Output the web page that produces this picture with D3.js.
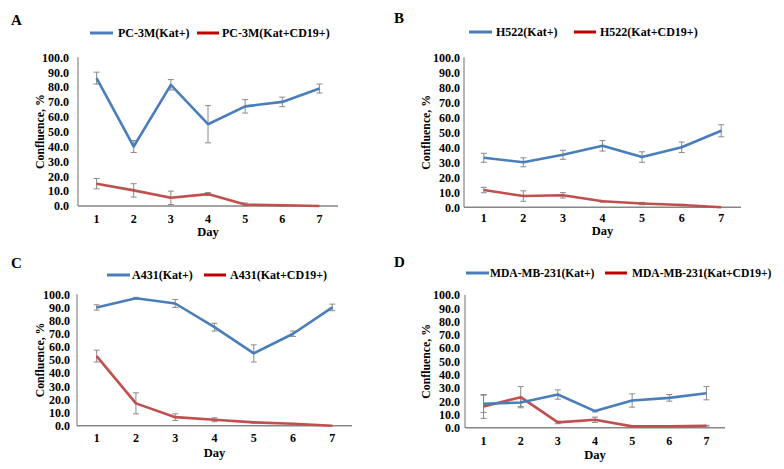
<!DOCTYPE html>
<html><head><meta charset="utf-8">
<script src="https://cdn.jsdelivr.net/npm/d3@7"></script>
<style>
html,body{margin:0;padding:0;background:#fff;}
svg text{font-family:"Liberation Serif","Times New Roman",Tinos,"DejaVu Serif",serif !important;font-weight:bold;fill:#000;}
</style></head>
<body>
<svg id="c" width="784" height="469"></svg>
<script>
// ---- data ----
const days = ["1","2","3","4","5","6","7"];
const yTicks = [0,10,20,30,40,50,60,70,80,90,100];

const panelLetters = ["A","B","C","D"];
const seriesNamesKat = ["PC-3M(Kat+)","H522(Kat+)","A431(Kat+)","MDA-MB-231(Kat+)"];
const seriesNamesCD19 = ["PC-3M(Kat+CD19+)","H522(Kat+CD19+)","A431(Kat+CD19+)","MDA-MB-231(Kat+CD19+)"];

const katA  = [86, 40, 81.5, 55, 67, 70, 79];
const katAErr = [4, 4, 3.5, 12.5, 4.5, 3.2, 3];
const cdA   = [15, 10.5, 5.5, 8, 1, 0.5, 0];
const cdAErr = [3.5, 4.5, 4.5, 1, 1, 0.5, 0];

const katB  = [33, 30, 35, 41, 33.5, 40, 51];
const katBErr = [3, 3, 3, 3.5, 3.5, 3.5, 4];
const cdB   = [11.5, 7.5, 8, 4, 2.5, 1.5, 0];
const cdBErr = [1.8, 3.5, 1.8, 0.6, 0.8, 0.5, 0];

const katC  = [90, 97, 93, 75, 55, 70, 90];
const katCErr = [2, 0.7, 3, 3, 6.5, 2, 2.5];
const cdC   = [53, 17, 6.5, 4.5, 2.5, 1.5, 0];
const cdCErr = [4.5, 8, 2.5, 1.5, 0.5, 0.3, 0];

const katD  = [18, 19, 25, 12.5, 20.5, 22.5, 26];
const katDErr = [6.5, 3, 3.5, 0.6, 5, 2.5, 5];
const cdD   = [16, 23, 4, 6, 1, 1, 1.5];
const cdDErr = [9, 8, 1, 2, 0.3, 0.3, 0.3];

// ---- layout (positions/styles only) ----
const layout = [
  {x0:78, x1:338, yT:57.3, yB:206, letter:[11,25], leg:{y:33, l1:90, t1:118, l2:197, t2:222, fs:12},
   tickGap:9, ylabX:40, xTickY:223, dayY:236},
  {x0:464, x1:741, yT:57.3, yB:207.3, letter:[394,23], leg:{y:32, l1:469, t1:496, l2:574, t2:600, fs:12},
   tickGap:4, ylabX:426, xTickY:222, dayY:235},
  {x0:77, x1:352, yT:294.3, yB:425.7, letter:[11,268], leg:{y:275, l1:107, t1:132, l2:204, t2:230, fs:12},
   tickGap:7, ylabX:40, xTickY:442, dayY:457},
  {x0:465, x1:725, yT:295, yB:427.7, letter:[394,267], leg:{y:273, l1:466, t1:490, l2:605, t2:632, fs:11.6},
   tickGap:5, ylabX:426, xTickY:445, dayY:459}
];

const panels = [
  {kat:katA, katErr:katAErr, cd:cdA, cdErr:cdAErr},
  {kat:katB, katErr:katBErr, cd:cdB, cdErr:cdBErr},
  {kat:katC, katErr:katCErr, cd:cdC, cdErr:cdCErr},
  {kat:katD, katErr:katDErr, cd:cdD, cdErr:cdDErr}
];

const blue = "#4A7EBB", red = "#C0504D", legBlue = "#4A7EBB", legRed = "#C00000";
const FONT = '"Liberation Serif","Times New Roman",Tinos,"DejaVu Serif",serif';
const svg = d3.select("#c");

panels.forEach((p, i) => {
  const L = layout[i];
  const g = svg.append("g");
  const x = d3.scaleBand().domain(days).range([L.x0, L.x1]);
  const y = d3.scaleLinear().domain([0,100]).range([L.yB, L.yT]);
  const cx = d => x(d) + x.bandwidth()/2;

  g.append("text").attr("x", L.letter[0]).attr("y", L.letter[1]).style("font-size","15px").text(panelLetters[i]);

  const ya = g.append("g").attr("transform", `translate(${L.x0},0)`)
    .call(d3.axisLeft(y).tickValues(yTicks).tickSize(0).tickPadding(L.tickGap).tickFormat(d3.format(".1f")));
  ya.attr("font-family", FONT);
  ya.select(".domain").attr("stroke","#868686").attr("stroke-width",1.2).attr("d", `M0,${L.yT}V${L.yB}`);
  ya.selectAll("text").style("font-size","12px");

  const xa = g.append("g").attr("transform", `translate(0,${L.yB})`)
    .call(d3.axisBottom(x).tickSize(0).tickPadding(0));
  xa.attr("font-family", FONT);
  xa.select(".domain").attr("stroke","#868686").attr("stroke-width",1.5).attr("d", `M${L.x0},0H${L.x1}`);
  xa.selectAll("text").attr("dy",null).attr("y", L.xTickY - L.yB).style("font-size","12px");

  g.append("text").attr("text-anchor","middle").attr("x",(L.x0+L.x1)/2).attr("y",L.dayY)
    .style("font-size","12.5px").text("Day");
  g.append("text").attr("text-anchor","middle")
    .attr("transform", `translate(${L.ylabX},${(L.yT+L.yB)/2}) rotate(-90)`)
    .attr("dy","0.35em").style("font-size","11.8px").text("Confluence, %");

  const line = d3.line().x((d,j)=>cx(days[j])).y(d=>y(d));

  [[p.kat,p.katErr],[p.cd,p.cdErr]].forEach(([vals,errs]) => {
    const eg = g.append("g").attr("stroke","#8a8a8a").attr("stroke-width",1);
    vals.forEach((v,j) => {
      const e = errs[j]; if (!e) return;
      const xx = cx(days[j]);
      const lo = y(Math.max(0, v - e)), hi = y(v + e);
      eg.append("line").attr("x1",xx).attr("x2",xx).attr("y1",lo).attr("y2",hi);
      eg.append("line").attr("x1",xx-3).attr("x2",xx+3).attr("y1",hi).attr("y2",hi);
      eg.append("line").attr("x1",xx-3).attr("x2",xx+3).attr("y1",lo).attr("y2",lo);
    });
  });

  g.append("path").datum(p.cd).attr("d", line).attr("fill","none").attr("stroke",red).attr("stroke-width",2.6).attr("stroke-linejoin","round");
  g.append("path").datum(p.kat).attr("d", line).attr("fill","none").attr("stroke",blue).attr("stroke-width",2.6).attr("stroke-linejoin","round");

  const lg = g.append("g");
  lg.append("line").attr("x1",L.leg.l1).attr("x2",L.leg.l1+23).attr("y1",L.leg.y).attr("y2",L.leg.y).attr("stroke",legBlue).attr("stroke-width",3);
  lg.append("text").attr("x",L.leg.t1).attr("y",L.leg.y).attr("dy","0.35em").style("font-size",L.leg.fs+"px").text(seriesNamesKat[i]);
  lg.append("line").attr("x1",L.leg.l2).attr("x2",L.leg.l2+22).attr("y1",L.leg.y).attr("y2",L.leg.y).attr("stroke",legRed).attr("stroke-width",3);
  lg.append("text").attr("x",L.leg.t2).attr("y",L.leg.y).attr("dy","0.35em").style("font-size",L.leg.fs+"px").text(seriesNamesCD19[i]);
});
</script>
</body></html>
